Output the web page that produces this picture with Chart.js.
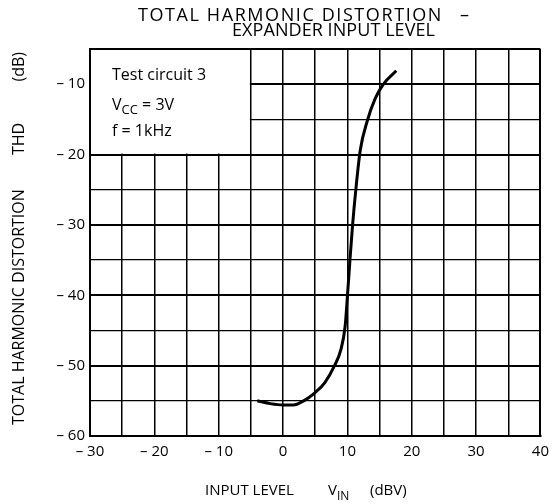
<!DOCTYPE html>
<html>
<head>
<meta charset="utf-8">
<script src="https://cdn.jsdelivr.net/npm/chart.js@4.4.1/dist/chart.umd.min.js"></script>
<style>
  html, body { margin: 0; padding: 0; background: #fff; }
  #wrap { width: 556px; height: 504px; position: relative; }
</style>
</head>
<body>
<div id="wrap"><canvas id="thd"></canvas></div>
<script>
// input level (dBV) and THD (dB)
const inputLevel = [-4, -2, 0, 1.6, 3.2, 4.9, 6.5, 8.0, 9.0, 9.65, 10.0, 10.4, 10.8, 11.3, 12.0, 13.1, 14.3, 15.6, 17.6];
const thd = [-55, -55.4, -55.6, -55.6, -55.0, -53.9, -52.4, -50, -47.7, -44.4, -40.2, -35, -30.1, -25.1, -19.4, -15.2, -12.1, -10, -8.1];

const titleLines = ["TOTAL HARMONIC DISTORTION", "EXPANDER INPUT LEVEL"];
const FONT = "'Open Sans', 'DejaVu Sans', sans-serif";

function dashLabel(v) {
  if (v % 10 !== 0) return "";
  return v < 0 ? "\u2013 " + Math.abs(v) : String(v);
}

// stretch a string a little so it covers a given width
function fitText(ctx, text, x, y, width) {
  ctx.letterSpacing = "0px";
  const w = ctx.measureText(text).width;
  const ls = Math.max(0, (width - w) / text.length);
  ctx.letterSpacing = ls + "px";
  ctx.fillText(text, x, y);
  ctx.letterSpacing = "0px";
}

const textPlugin = {
  id: "textPlugin",
  beforeDatasetsDraw(chart) {
    const ctx = chart.ctx;
    const a = chart.chartArea;
    const xs = chart.scales.x, ys = chart.scales.y;
    // white box that hides the grid behind the conditions note
    const bx = xs.getPixelForValue(-5);
    const by = ys.getPixelForValue(-20);
    ctx.save();
    ctx.fillStyle = "#fff";
    ctx.fillRect(a.left + 1, a.top + 1, bx - a.left - 2, by - a.top - 2);
    ctx.fillStyle = "#000";
    ctx.font = "16px " + FONT;
    ctx.fillText("Test circuit 3", 112, 80);
    ctx.fillText("V", 112, 110);
    const w = ctx.measureText("V").width;
    ctx.font = "13px " + FONT;
    ctx.fillText("CC", 112 + w, 114);
    const w2 = ctx.measureText("CC").width;
    ctx.font = "16px " + FONT;
    ctx.fillText(" = 3V", 112 + w + w2, 110);
    ctx.fillText("f = 1kHz", 112, 136);
    ctx.restore();
  },
  afterDraw(chart) {
    const ctx = chart.ctx;
    ctx.save();
    ctx.fillStyle = "#000";
    ctx.textAlign = "left";
    // title
    ctx.font = "18px " + FONT;
    fitText(ctx, titleLines[0], 138, 21, 305);
    ctx.fillText("\u2013", 460, 21);
    fitText(ctx, titleLines[1], 232, 36, 203);
    // x axis title
    ctx.font = "15px " + FONT;
    ctx.fillText("INPUT LEVEL", 205, 495);
    ctx.fillText("V", 328, 495);
    const vw = ctx.measureText("V").width;
    ctx.font = "12px " + FONT;
    ctx.fillText("IN", 328 + vw, 500);
    ctx.font = "15px " + FONT;
    ctx.fillText("(dBV)", 370, 495);
    // y axis title, read bottom to top
    ctx.translate(24, 425);
    ctx.rotate(-Math.PI / 2);
    ctx.font = "16px " + FONT;
    ctx.fillText("TOTAL HARMONIC DISTORTION", 0, 0);
    ctx.fillText("THD", 425 - 155, 0);
    ctx.fillText("(dB)", 425 - 52 - ctx.measureText("(dB)").width, 0);
    ctx.restore();
  }
};

new Chart(document.getElementById("thd"), {
  type: "line",
  data: {
    datasets: [{
      data: inputLevel.map((v, i) => ({ x: v, y: thd[i] })),
      borderColor: "#000",
      borderWidth: 3,
      pointRadius: 0,
      fill: false,
      cubicInterpolationMode: "monotone",
    }],
  },
  options: {
    responsive: true,
    maintainAspectRatio: false,
    animation: false,
    layout: { padding: { left: 0, top: 49, right: 9, bottom: 0 } },
    plugins: { legend: { display: false }, tooltip: { enabled: false } },
    scales: {
      x: {
        type: "linear",
        min: -30,
        max: 40,
        afterFit(scale) { scale.height = 68; },
        ticks: {
          stepSize: 5,
          autoSkip: false,
          maxRotation: 0,
          padding: 7,
          color: "#000",
          font: { family: FONT, size: 15 },
          callback: dashLabel,
        },
        grid: {
          color: "#000",
          drawTicks: false,
          lineWidth: (c) => (c.tick && c.tick.value === 40 ? 2 : 1.5),
        },
        border: { display: true, color: "#000", width: 2 },
      },
      y: {
        type: "linear",
        min: -60,
        max: -5,
        afterFit(scale) { scale.width = 90; },
        ticks: {
          stepSize: 5,
          autoSkip: false,
          padding: 5,
          color: "#000",
          font: { family: FONT, size: 15 },
          callback: dashLabel,
        },
        grid: {
          color: "#000",
          drawTicks: false,
          lineWidth: (c) => (c.tick && (c.tick.value % 10 === 0 || c.tick.value === -5) ? 2 : 1.3),
        },
        border: { display: true, color: "#000", width: 2 },
      },
    },
  },
  plugins: [textPlugin],
});
</script>
</body>
</html>
